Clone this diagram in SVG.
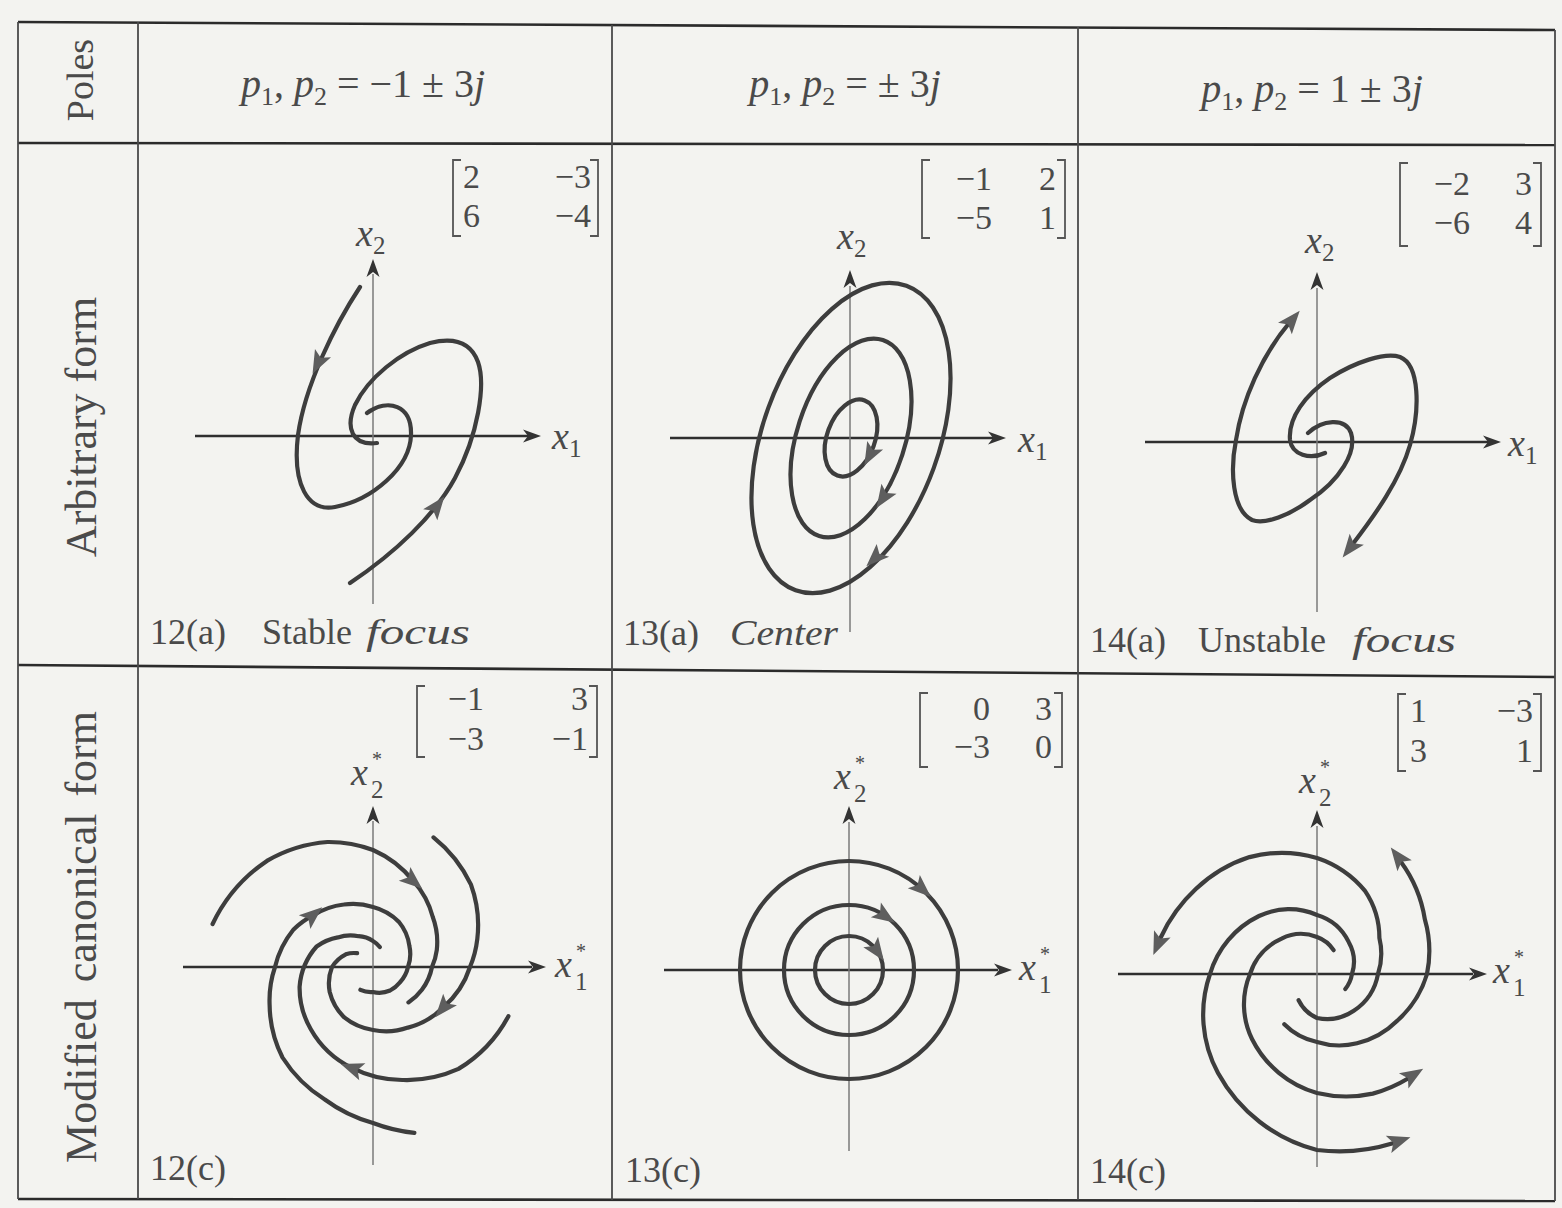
<svg xmlns="http://www.w3.org/2000/svg" xmlns:xlink="http://www.w3.org/1999/xlink" width="1562" height="1208" viewBox="0 0 1562 1208">
<defs>
<style>
.tl{stroke:#2b2b2b;stroke-width:2.6;fill:none}
.vl{stroke:#4a4a4a;stroke-width:1.8;fill:none}
.ax{stroke:#2f2f2f;stroke-width:2.4;fill:none}
.vax{stroke:#7a7a7a;stroke-width:1.5;fill:none}
.cv{stroke:#3d3d3d;stroke-width:4.2;fill:none;stroke-linecap:round}
.br{stroke:#555;stroke-width:1.8;fill:none}
.ah{fill:#5e5e5e}
.axh{fill:#333}
text{font-family:"Liberation Serif","Times New Roman","DejaVu Serif",serif;fill:#4a4a4a}
.it{font-style:italic}
.mx{font-size:34px}
.cap{font-size:36px}
.lab{font-size:38px;font-style:italic}
.sub{font-size:25px;font-style:normal}
.st{font-size:20px;font-style:normal}
</style>
<path id="ah" d="M12,0 L-11,-9 L-6,0 L-11,9 Z"/>
<path id="axh" d="M0,0 L-18,-6.5 L-13,0 L-18,6.5 Z"/>
</defs>
<rect x="0" y="0" width="1562" height="1208" fill="#f3f3f0"/>

<g id="table">
<path class="tl" d="M18,22 L1555,30"/>
<path class="tl" d="M18,143 L1555,145"/>
<path class="tl" d="M18,665 L1555,677"/>
<path class="tl" d="M18,1199 L1555,1201"/>
<path class="vl" d="M18,22 L18,1199"/>
<path class="vl" d="M138,22 L138,1199"/>
<path class="vl" d="M612,25 L612,1200"/>
<path class="vl" d="M1078,27 L1078,1200"/>
<path class="vl" d="M1555,30 L1555,1201"/>
</g>

<g id="row-labels">
<text x="80" y="80" font-size="38" text-anchor="middle" transform="rotate(-90 80 80)" dy="13">Poles</text>
<text x="82" y="427" font-size="44" text-anchor="middle" transform="rotate(-90 82 427)" dy="14">Arbitrary form</text>
<text x="82" y="937" font-size="44" text-anchor="middle" transform="rotate(-90 82 937)" dy="14" word-spacing="6">Modified canonical form</text>
</g>

<g id="poles">
<text x="363" y="97" font-size="40" text-anchor="middle"><tspan class="it">p</tspan><tspan font-size="26" dy="8">1</tspan><tspan dy="-8">, </tspan><tspan class="it">p</tspan><tspan font-size="26" dy="8">2</tspan><tspan dy="-8"> = −1 ± 3</tspan><tspan class="it">j</tspan></text>
<text x="845" y="97" font-size="40" text-anchor="middle"><tspan class="it">p</tspan><tspan font-size="26" dy="8">1</tspan><tspan dy="-8">, </tspan><tspan class="it">p</tspan><tspan font-size="26" dy="8">2</tspan><tspan dy="-8"> = ± 3</tspan><tspan class="it">j</tspan></text>
<text x="1312" y="102" font-size="40" text-anchor="middle"><tspan class="it">p</tspan><tspan font-size="26" dy="8">1</tspan><tspan dy="-8">, </tspan><tspan class="it">p</tspan><tspan font-size="26" dy="8">2</tspan><tspan dy="-8"> = 1 ± 3</tspan><tspan class="it">j</tspan></text>
</g>

<!-- 12(a) -->
<g id="cell-12a">
<path class="br" d="M461,160 L453,160 L453,236 L461,236 M590,160 L598,160 L598,236 L590,236"/>
<text class="mx" x="463" y="188">2</text><text class="mx" x="591" y="188" text-anchor="end">−3</text>
<text class="mx" x="463" y="227">6</text><text class="mx" x="591" y="227" text-anchor="end">−4</text>
<line class="ax" x1="195" y1="436" x2="528" y2="436"/><use href="#axh" class="axh" transform="translate(541,436)"/>
<line class="vax" x1="373" y1="604" x2="373" y2="274"/><use href="#axh" class="axh" transform="translate(373,259) rotate(-90)"/>
<text class="lab" x="552" y="449">x<tspan class="sub" dy="8">1</tspan></text>
<text class="lab" x="356" y="246">x<tspan class="sub" dy="8">2</tspan></text>
<path class="cv" d="M360,287 C335,325 305,385 298,435 C292,485 308,512 335,507 C372,500 410,468 411,435 C412,405 388,398 367,413"/>
<path class="cv" d="M350,583 C395,553 435,515 455,478 C478,435 486,385 478,362 C470,340 450,338 430,343 C400,352 368,378 355,405 C345,428 352,446 377,443"/>
<use href="#ah" class="ah" transform="translate(318,363) rotate(117)"/>
<use href="#ah" class="ah" transform="translate(437,506) rotate(-52)"/>
<text class="cap" x="150" y="644">12(a)</text>
<text class="cap" x="262" y="644">Stable</text>
<text class="cap it" x="366" y="644" textLength="104" lengthAdjust="spacingAndGlyphs">focus</text>
</g>

<!-- 13(a) -->
<g id="cell-13a">
<path class="br" d="M930,160 L922,160 L922,238 L930,238 M1057,160 L1065,160 L1065,238 L1057,238"/>
<text class="mx" x="992" y="190" text-anchor="end">−1</text><text class="mx" x="1056" y="190" text-anchor="end">2</text>
<text class="mx" x="992" y="229" text-anchor="end">−5</text><text class="mx" x="1056" y="229" text-anchor="end">1</text>
<line class="ax" x1="670" y1="438" x2="993" y2="438"/><use href="#axh" class="axh" transform="translate(1006,438)"/>
<line class="vax" x1="850" y1="632" x2="850" y2="286"/><use href="#axh" class="axh" transform="translate(850,270) rotate(-90)"/>
<text class="lab" x="1018" y="452">x<tspan class="sub" dy="8">1</tspan></text>
<text class="lab" x="837" y="249">x<tspan class="sub" dy="8">2</tspan></text>
<ellipse class="cv" cx="851" cy="438" rx="162" ry="88" transform="rotate(-70 851 438)"/>
<ellipse class="cv" cx="851" cy="438" rx="103" ry="54" transform="rotate(-72 851 438)"/>
<ellipse class="cv" cx="851" cy="438" rx="40" ry="24" transform="rotate(-70 851 438)"/>
<use href="#ah" class="ah" transform="translate(870,455) rotate(118)"/>
<use href="#ah" class="ah" transform="translate(883,498) rotate(123)"/>
<use href="#ah" class="ah" transform="translate(875,558) rotate(136)"/>
<text class="cap" x="623" y="645">13(a)</text>
<text class="cap it" x="730" y="645" textLength="108" lengthAdjust="spacingAndGlyphs">Center</text>
</g>

<!-- 14(a) -->
<g id="cell-14a">
<path class="br" d="M1408,163 L1400,163 L1400,246 L1408,246 M1533,163 L1541,163 L1541,246 L1533,246"/>
<text class="mx" x="1470" y="195" text-anchor="end">−2</text><text class="mx" x="1532" y="195" text-anchor="end">3</text>
<text class="mx" x="1470" y="234" text-anchor="end">−6</text><text class="mx" x="1532" y="234" text-anchor="end">4</text>
<line class="ax" x1="1145" y1="442" x2="1488" y2="442"/><use href="#axh" class="axh" transform="translate(1501,442)"/>
<line class="vax" x1="1317" y1="612" x2="1317" y2="288"/><use href="#axh" class="axh" transform="translate(1317,272) rotate(-90)"/>
<text class="lab" x="1508" y="456">x<tspan class="sub" dy="8">1</tspan></text>
<text class="lab" x="1305" y="253">x<tspan class="sub" dy="8">2</tspan></text>
<path class="cv" d="M1308,433 C1322,420 1345,417 1351,433 C1357,452 1340,480 1310,500 C1290,515 1265,525 1252,520 C1232,510 1230,470 1236,440 C1242,400 1262,355 1290,322"/>
<path class="cv" d="M1325,453 C1310,460 1292,455 1290,440 C1288,418 1305,395 1330,378 C1355,362 1385,352 1400,357 C1420,365 1420,410 1410,445 C1400,480 1375,515 1352,545"/>
<use href="#ah" class="ah" transform="translate(1292,320) rotate(-50)"/>
<use href="#ah" class="ah" transform="translate(1350,548) rotate(128)"/>
<text class="cap" x="1090" y="652">14(a)</text>
<text class="cap" x="1198" y="652">Unstable</text>
<text class="cap it" x="1352" y="652" textLength="104" lengthAdjust="spacingAndGlyphs">focus</text>
</g>

<!-- 12(c) -->
<g id="cell-12c">
<path class="br" d="M425,686 L417,686 L417,757 L425,757 M589,686 L597,686 L597,757 L589,757"/>
<text class="mx" x="484" y="710" text-anchor="end">−1</text><text class="mx" x="588" y="710" text-anchor="end">3</text>
<text class="mx" x="484" y="750" text-anchor="end">−3</text><text class="mx" x="588" y="750" text-anchor="end">−1</text>
<line class="ax" x1="183" y1="967" x2="532" y2="967"/><use href="#axh" class="axh" transform="translate(546,967)"/>
<line class="vax" x1="373" y1="1165" x2="373" y2="821"/><use href="#axh" class="axh" transform="translate(373,806) rotate(-90)"/>
<text class="lab" x="555" y="977">x</text><text class="st" x="576" y="958">*</text><text class="sub" x="575" y="990">1</text>
<text class="lab" x="351" y="785">x</text><text class="st" x="372" y="766">*</text><text class="sub" x="371" y="798">2</text>
<path class="cv" d="M212.6,924 A158,158 0 0 1 266.9,860.9 A141,141 0 0 1 327.5,842 A125,125 0 0 1 373,850 A106,106 0 0 1 413.2,880.9 A86,86 0 0 1 432.7,916.8 A72,72 0 0 1 436.8,949.9 A62,62 0 0 1 432,967 A56,56 0 0 1 421.9,989.8 A52,52 0 0 1 408.4,1002.4"/>
<path class="cv" d="M433.5,837.4 A135,135 0 0 1 471,884.7 A118,118 0 0 1 477.3,939 A102,102 0 0 1 470,967 A89,89 0 0 1 443.1,1007.5 A75,75 0 0 1 408,1027.6 A66,66 0 0 1 373,1030 A60,60 0 0 1 344,1017.2 A54,54 0 0 1 329.7,992 A45,45 0 0 1 332,967 A35,35 0 0 1 345.8,954.3 A25,25 0 0 1 357.1,953.2"/>
<path class="cv" d="M508.4,1016.2 A138,138 0 0 1 458.5,1068.9 A125,125 0 0 1 403.3,1080 A110,110 0 0 1 351.6,1067.7 A95,95 0 0 1 310.8,1029.2 A82,82 0 0 1 299.6,986.7 A68,68 0 0 1 316.6,946.5 A53,53 0 0 1 337.8,937.4 A40,40 0 0 1 358.6,936.2 A30,30 0 0 1 373,941 A23,23 0 0 1 379.8,947.1"/>
<path class="cv" d="M414.4,1132.9 A163,163 0 0 1 373,1123 A148,148 0 0 1 324.8,1099.5 A134,134 0 0 1 282.5,1057.5 A119,119 0 0 1 269.6,1004.6 A104,104 0 0 1 275,967 A93,93 0 0 1 293.3,929.8 A83,83 0 0 1 313.4,915.2 A74,74 0 0 1 343.8,904.5 A64,64 0 0 1 373,907 A56,56 0 0 1 399,922 A47,47 0 0 1 409.4,946 A38,38 0 0 1 408,967 A33,33 0 0 1 399.8,982.5 A30,30 0 0 1 390.1,990.5 A27,27 0 0 1 373,992 A25,25 0 0 1 360.4,989.8"/>
<use href="#ah" class="ah" transform="translate(413,881) rotate(40)"/>
<use href="#ah" class="ah" transform="translate(443,1008) rotate(130)"/>
<use href="#ah" class="ah" transform="translate(352,1068) rotate(200)"/>
<use href="#ah" class="ah" transform="translate(313,915) rotate(-40)"/>
<text class="cap" x="150" y="1180">12(c)</text>
</g>

<!-- 13(c) -->
<g id="cell-13c">
<path class="br" d="M928,693 L920,693 L920,767 L928,767 M1054,693 L1062,693 L1062,767 L1054,767"/>
<text class="mx" x="990" y="720" text-anchor="end">0</text><text class="mx" x="1052" y="720" text-anchor="end">3</text>
<text class="mx" x="990" y="758" text-anchor="end">−3</text><text class="mx" x="1052" y="758" text-anchor="end">0</text>
<line class="ax" x1="664" y1="970" x2="998" y2="970"/><use href="#axh" class="axh" transform="translate(1012,970)"/>
<line class="vax" x1="849" y1="1151" x2="849" y2="822"/><use href="#axh" class="axh" transform="translate(849,806) rotate(-90)"/>
<text class="lab" x="1019" y="980">x</text><text class="st" x="1040" y="961">*</text><text class="sub" x="1039" y="993">1</text>
<text class="lab" x="834" y="789">x</text><text class="st" x="855" y="770">*</text><text class="sub" x="854" y="802">2</text>
<circle class="cv" cx="849" cy="970" r="109" stroke="#2e2e2e" stroke-width="3.6"/>
<circle class="cv" cx="849" cy="970" r="65" stroke="#2e2e2e" stroke-width="3.6"/>
<circle class="cv" cx="849" cy="970" r="34" stroke="#2e2e2e" stroke-width="3.6"/>
<use href="#ah" class="ah" transform="translate(922,889) rotate(42)"/>
<use href="#ah" class="ah" transform="translate(885,916) rotate(34)"/>
<use href="#ah" class="ah" transform="translate(877,951) rotate(55)"/>
<text class="cap" x="625" y="1182">13(c)</text>
</g>

<!-- 14(c) -->
<g id="cell-14c">
<path class="br" d="M1406,694 L1398,694 L1398,771 L1406,771 M1533,694 L1541,694 L1541,771 L1533,771"/>
<text class="mx" x="1410" y="722">1</text><text class="mx" x="1533" y="722" text-anchor="end">−3</text>
<text class="mx" x="1410" y="762">3</text><text class="mx" x="1533" y="762" text-anchor="end">1</text>
<line class="ax" x1="1118" y1="974" x2="1473" y2="974"/><use href="#axh" class="axh" transform="translate(1487,974)"/>
<line class="vax" x1="1317" y1="1167" x2="1317" y2="826"/><use href="#axh" class="axh" transform="translate(1317,810) rotate(-90)"/>
<text class="lab" x="1493" y="983">x</text><text class="st" x="1514" y="964">*</text><text class="sub" x="1513" y="996">1</text>
<text class="lab" x="1299" y="793">x</text><text class="st" x="1320" y="774">*</text><text class="sub" x="1319" y="806">2</text>
<path class="cv" d="M1298.6,1000.2 A38,38 0 0 0 1317,1018 A48,48 0 0 0 1353.8,1010.8 A56,56 0 0 0 1378,974 A66,66 0 0 0 1379.4,938 A84,84 0 0 0 1365,890.9 A106,106 0 0 0 1317,858 A125,125 0 0 0 1249.5,857.1 A141,141 0 0 0 1195.8,889.1 A154,154 0 0 0 1161,937"/>
<path class="cv" d="M1284.3,1024.3 A64,64 0 0 0 1317,1042 A74,74 0 0 0 1357,1043.3 A86,86 0 0 0 1397.5,1020.5 A101,101 0 0 0 1427,974 A115,115 0 0 0 1424.8,919.1 A131,131 0 0 0 1401,862"/>
<path class="cv" d="M1333.6,950.2 A33,33 0 0 0 1317,937 A43,43 0 0 0 1281.6,938.6 A58,58 0 0 0 1250,974 A79,79 0 0 0 1252,1039 A105,105 0 0 0 1317,1093 A125,125 0 0 0 1372.8,1093.6 A135,135 0 0 0 1408,1078.5"/>
<path class="cv" d="M1345.3,989 A33,33 0 0 0 1352,974 A40,40 0 0 0 1348.8,942.2 A52,52 0 0 0 1317,915 A70,70 0 0 0 1259,916 A94,94 0 0 0 1210,974 A123,123 0 0 0 1218,1073 A158,158 0 0 0 1317,1150 A181,181 0 0 0 1393,1143.3"/>
<use href="#ah" class="ah" transform="translate(1158,944) rotate(113)"/>
<use href="#ah" class="ah" transform="translate(1398,857) rotate(233)"/>
<use href="#ah" class="ah" transform="translate(1413,1075) rotate(-32)"/>
<use href="#ah" class="ah" transform="translate(1399,1141) rotate(-18)"/>
<text class="cap" x="1090" y="1183">14(c)</text>
</g>
</svg>
